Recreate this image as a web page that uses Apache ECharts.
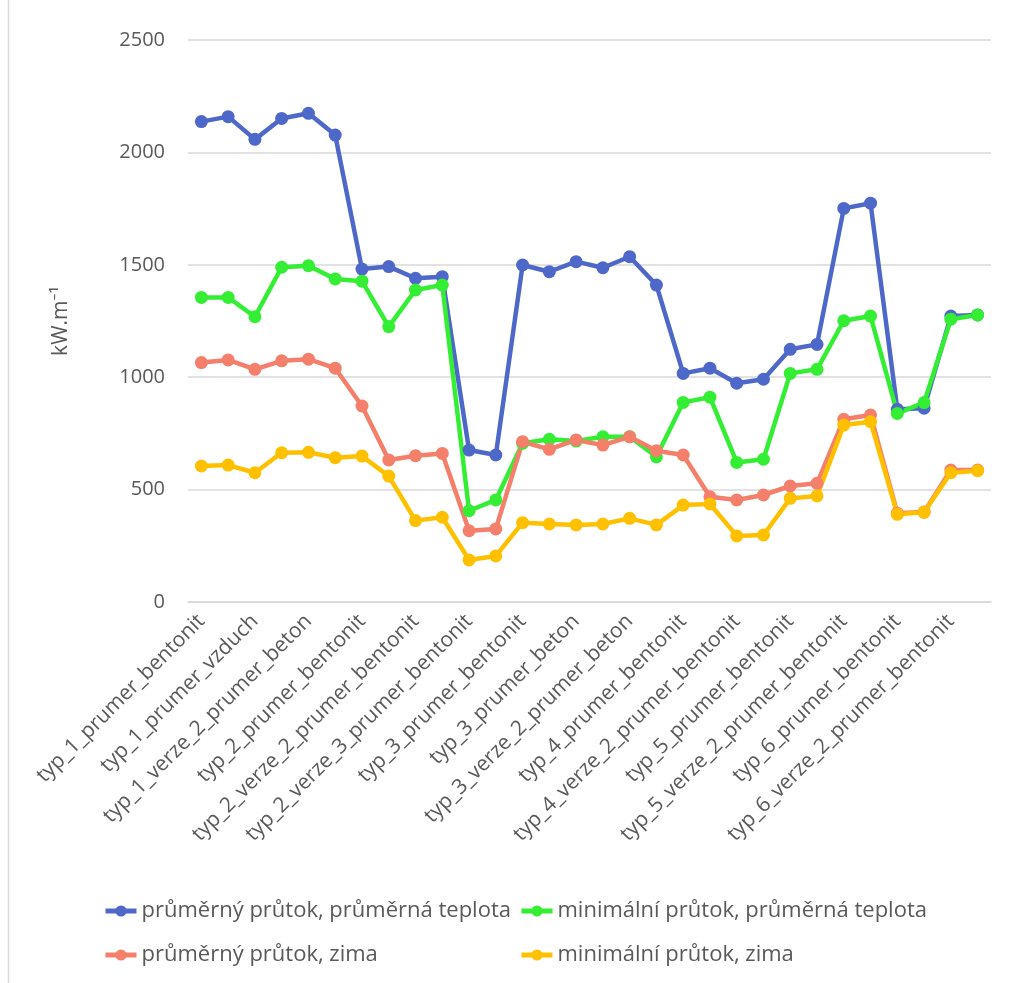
<!DOCTYPE html>
<html>
<head>
<meta charset="utf-8">
<script src="https://cdn.jsdelivr.net/npm/echarts@6/dist/echarts.min.js"></script>
<style>
    html, body { margin: 0; padding: 0; background: #fff; }
    #chart { width: 1013px; height: 983px; }
</style>
</head>
<body>
<div id="chart"></div>
<script>
// kategorie (liché se na ose nezobrazují)
var categories = [
    'typ_1_prumer_bentonit', 'typ_1_prumer_beton',
    'typ_1_prumer_vzduch', 'typ_1_verze_2_prumer_bentonit',
    'typ_1_verze_2_prumer_beton', 'typ_2_prumer_beton',
    'typ_2_prumer_bentonit', 'typ_2_verze_2_prumer_beton',
    'typ_2_verze_2_prumer_bentonit', 'typ_2_verze_3_prumer_beton',
    'typ_2_verze_3_prumer_bentonit', 'typ_3_prumer_vzduch',
    'typ_3_prumer_bentonit', 'typ_3_verze_2_prumer_bentonit',
    'typ_3_prumer_beton', 'typ_3_verze_3_prumer_bentonit',
    'typ_3_verze_2_prumer_beton', 'typ_3_verze_3_prumer_beton',
    'typ_4_prumer_bentonit', 'typ_4_prumer_beton',
    'typ_4_verze_2_prumer_bentonit', 'typ_4_verze_2_prumer_beton',
    'typ_5_prumer_bentonit', 'typ_5_prumer_beton',
    'typ_5_verze_2_prumer_bentonit', 'typ_5_verze_2_prumer_beton',
    'typ_6_prumer_bentonit', 'typ_6_prumer_beton',
    'typ_6_verze_2_prumer_bentonit', 'typ_6_verze_2_prumer_beton'
];

var seriesNames = [
    'průměrný průtok, průměrná teplota',
    'minimální průtok, průměrná teplota',
    'průměrný průtok, zima',
    'minimální průtok, zima'
];

var prumerPrumer = [2137, 2159, 2058, 2151, 2174, 2077, 1481, 1492, 1440, 1447,
    676, 654, 1499, 1469, 1514, 1487, 1536, 1410, 1017, 1040,
    973, 991, 1124, 1146, 1751, 1774, 857, 862, 1272, 1277];

var minimumPrumer = [1355, 1355, 1269, 1489, 1496, 1437, 1427, 1225, 1388, 1410,
    406, 454, 706, 724, 716, 735, 735, 646, 888, 911,
    621, 635, 1017, 1035, 1251, 1272, 839, 887, 1258, 1277];

var prumerZima = [1065, 1077, 1035, 1073, 1080, 1040, 872, 632, 651, 661,
    317, 325, 713, 679, 721, 698, 735, 673, 654, 468,
    454, 476, 516, 528, 813, 832, 395, 400, 587, 587];

var minimumZima = [605, 609, 575, 664, 666, 642, 649, 560, 362, 377,
    187, 205, 353, 347, 343, 347, 372, 343, 431, 436,
    294, 298, 461, 472, 787, 802, 390, 399, 575, 584];

var yTicks = { min: 0, max: 2500, step: 500 };

var colors = ['#4e68c9', '#33ee33', '#f47f6a', '#ffc000'];
var textColor = '#595959';
var fontFam = '"Open Sans", "Noto Sans", sans-serif';

function makeSeries(name, data, color) {
    return {
        name: name,
        type: 'line',
        data: data,
        symbol: 'circle',
        symbolSize: 13,
        lineStyle: { width: 4.5, color: color },
        itemStyle: { color: color },
        emphasis: { disabled: true },
        animation: false
    };
}

function makeLegend(names, left) {
    return {
        data: names,
        orient: 'vertical',
        left: left,
        top: 900,
        padding: 0,
        itemWidth: 31,
        itemHeight: 14,
        itemGap: 22,
        lineStyle: { width: 5 },
        textStyle: { color: textColor, fontSize: 22, fontFamily: fontFam }
    };
}

var chartDom = document.getElementById('chart');
var myChart = echarts.init(chartDom);
var option = {
    backgroundColor: '#fff',
    textStyle: { fontFamily: fontFam },
    graphic: [{
        type: 'line',
        shape: { x1: 8.5, y1: 0, x2: 8.5, y2: 983 },
        style: { stroke: '#d9d9d9', lineWidth: 1.5 }
    }],
    grid: {
        left: 188,
        right: 22,
        top: 40,
        bottom: 381
    },
    legend: [
        makeLegend([seriesNames[0], seriesNames[2]], 103),
        makeLegend([seriesNames[1], seriesNames[3]], 519)
    ],
    xAxis: {
        type: 'category',
        data: categories,
        boundaryGap: true,
        axisLine: { show: true, lineStyle: { color: '#d9d9d9', width: 1.5 } },
        axisTick: { show: false },
        axisLabel: {
            interval: 1,
            rotate: 45,
            margin: 16,
            color: textColor,
            fontSize: 21,
            fontFamily: fontFam
        }
    },
    yAxis: {
        type: 'value',
        min: yTicks.min,
        max: yTicks.max,
        interval: yTicks.step,
        name: 'kW.m⁻¹',
        nameLocation: 'middle',
        nameGap: 116,
        nameTextStyle: { color: textColor, fontSize: 21, fontFamily: fontFam },
        axisLine: { show: false },
        axisTick: { show: false },
        axisLabel: {
            color: textColor,
            fontSize: 20,
            margin: 23,
            fontFamily: fontFam,
            formatter: function (v) { return String(v); }
        },
        splitLine: { lineStyle: { color: '#d9d9d9', width: 1.5 } }
    },
    series: [
        makeSeries(seriesNames[0], prumerPrumer, colors[0]),
        makeSeries(seriesNames[1], minimumPrumer, colors[1]),
        makeSeries(seriesNames[2], prumerZima, colors[2]),
        makeSeries(seriesNames[3], minimumZima, colors[3])
    ]
};
option && myChart.setOption(option);
</script>
</body>
</html>
